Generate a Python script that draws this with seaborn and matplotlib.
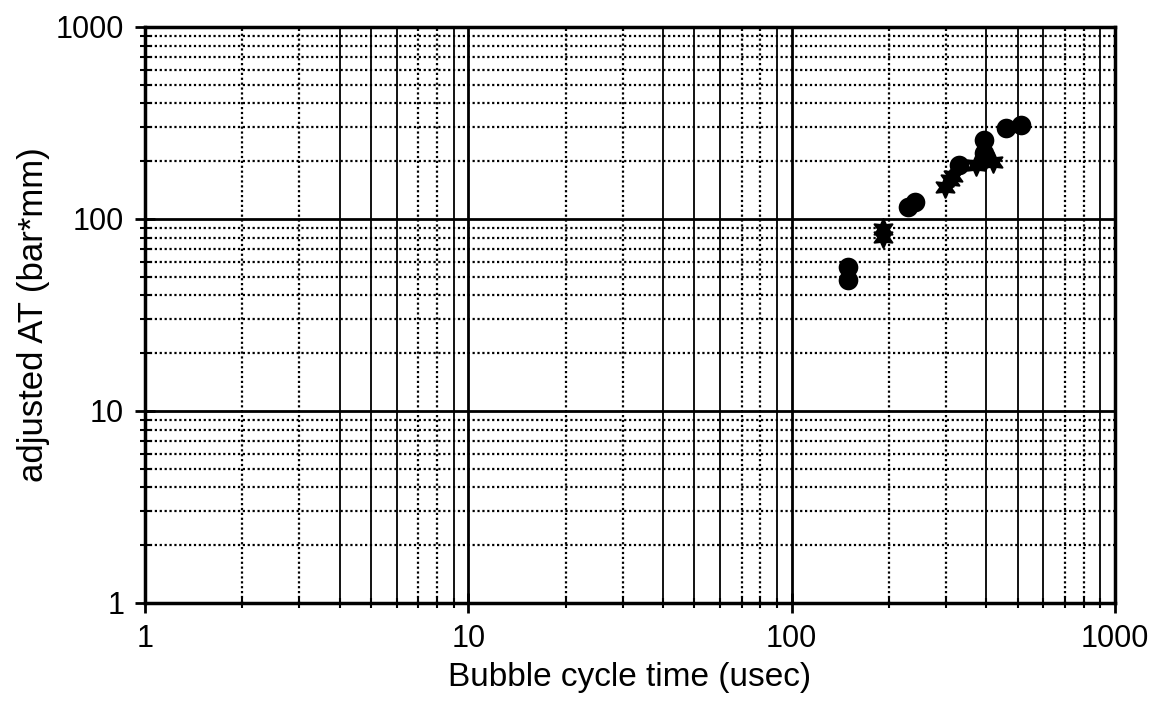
import numpy as np
import pandas as pd
import matplotlib
matplotlib.use("Agg")
import matplotlib.pyplot as plt
from matplotlib.ticker import LogLocator, FixedLocator, NullFormatter
import seaborn as sns

# data
circle_time = [149, 149, 229, 241, 330, 394, 394, 459, 512]
circle_at = [56, 48, 115, 122, 191, 258, 221, 297, 309]

star_time = [192, 192, 298, 309, 316, 373, 396, 421]
star_at = [89, 81, 147, 160, 167, 191, 203, 199]

x_ticks = [1, 10, 100, 1000]
y_ticks = [1, 10, 100, 1000]

df_c = pd.DataFrame({"t": circle_time, "at": circle_at})
df_s = pd.DataFrame({"t": star_time, "at": star_at})

sns.set_style("white")
plt.rcParams['font.family'] = ['Liberation Sans', 'DejaVu Sans']
plt.rcParams['text.color'] = 'black'
plt.rcParams['axes.labelcolor'] = 'black'

fig = plt.figure(figsize=(11.53, 7.06), dpi=100)
ax = fig.add_axes([0.1258, 0.1459, 0.967 - 0.1258, 0.9618 - 0.1459])

ax.set_xscale("log")
ax.set_yscale("log")
ax.set_xlim(1, 1000)
ax.set_ylim(1, 1000)

# grid: solid decades, dotted minors (scan shows some vertical minors solid)
dots = (0, (1, 1.2))
for d in [1, 10, 100]:
    for m in range(2, 10):
        v = d * m
        if m in (4, 5, 6, 9):
            ax.axvline(v, color="black", lw=1.3, ls="-", zorder=1)
        else:
            ax.axvline(v, color="black", lw=1.6, ls=dots, zorder=1)
        ax.axhline(v, color="black", lw=1.6, ls=dots, zorder=1)
for v in [10, 100]:
    ax.axvline(v, color="black", lw=2.0, zorder=1)
    ax.axhline(v, color="black", lw=2.0, zorder=1)

sns.scatterplot(data=df_c, x="t", y="at", ax=ax, color="black", marker="o",
                s=200, edgecolor="black", linewidth=0, zorder=3)
sns.scatterplot(data=df_s, x="t", y="at", ax=ax, color="black", marker=(6, 1, 0),
                s=220, edgecolor="black", linewidth=1.5, zorder=3)

ax.xaxis.set_major_locator(FixedLocator(x_ticks))
ax.yaxis.set_major_locator(FixedLocator(y_ticks))
ax.set_xticklabels([str(v) for v in x_ticks])
ax.set_yticklabels([str(v) for v in y_ticks])
ax.xaxis.set_minor_locator(LogLocator(base=10, subs=np.arange(2, 10)))
ax.yaxis.set_minor_locator(LogLocator(base=10, subs=np.arange(2, 10)))
ax.xaxis.set_minor_formatter(NullFormatter())
ax.yaxis.set_minor_formatter(NullFormatter())

ax.tick_params(bottom=True, left=True, top=False, right=False, which="both")
ax.tick_params(axis="both", which="major", direction="inout", length=14, width=2,
               labelsize=22, colors="black", pad=8)
ax.tick_params(axis="both", which="minor", direction="inout", length=7, width=1.5,
               colors="black")

for s in ax.spines.values():
    s.set_visible(True)
    s.set_color("black")
    s.set_linewidth(2.5)

ax.set_xlabel("Bubble cycle time (usec)", fontsize=24, labelpad=6)
ax.set_ylabel("adjusted AT (bar*mm)", fontsize=25, labelpad=4)

fig.savefig("out.png", dpi=100, facecolor="white")
